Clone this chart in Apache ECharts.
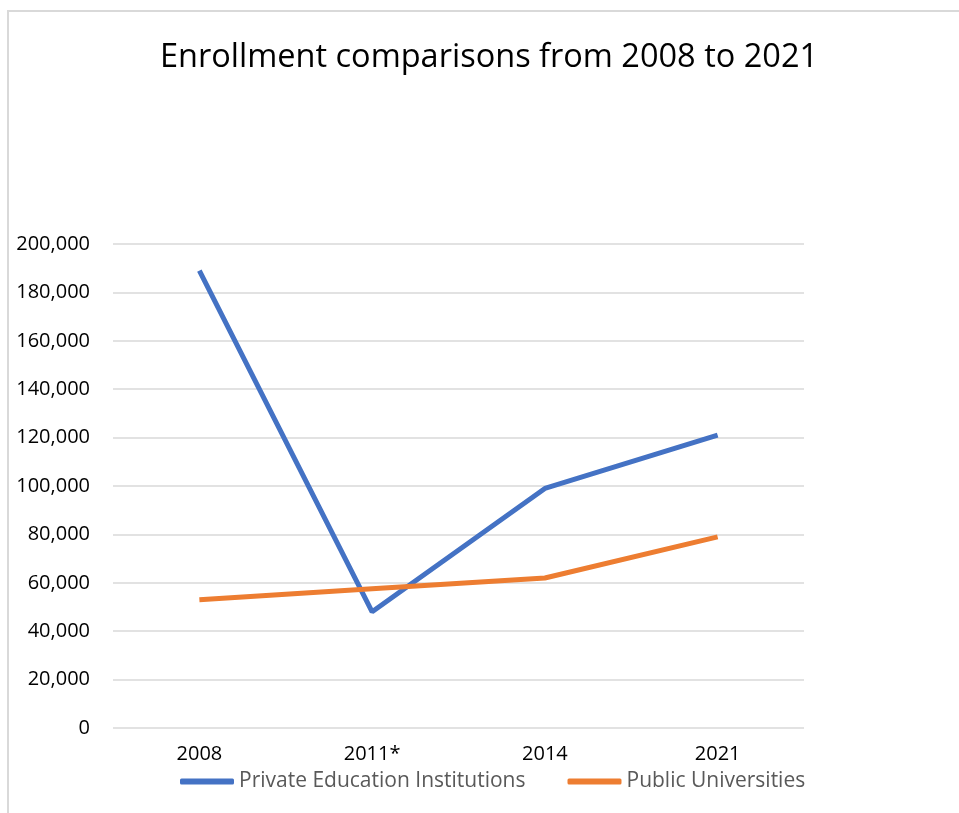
<!DOCTYPE html>
<html style="height: 100%">
<head>
  <meta charset="utf-8">
  <script src="https://cdn.jsdelivr.net/npm/echarts@6/dist/echarts.min.js"></script>
  <style>
    body { height: 100%; margin: 0; background: #fff; }
    #frame {
      position: absolute; left: 7px; top: 10px; width: 1000px; height: 900px;
      border: 2px solid #d9d9d9; box-sizing: border-box;
    }
    #chart { position: absolute; left: 0; top: 0; width: 959px; height: 813px; }
  </style>
</head>
<body>
  <div id="frame"></div>
  <div id="chart"></div>
  <script>
    var years = ['2008', '2011*', '2014', '2021'];
    var privateInst = [189000, 48000, 99000, 121000];
    var publicUni = [53000, 57500, 62000, 79000];
    var yTicks = { min: 0, max: 200000, step: 20000 };

    var font = 'Open Sans';
    var myChart = echarts.init(document.getElementById('chart'));
    var option = {
      backgroundColor: 'transparent',
      animation: false,
      title: {
        text: 'Enrollment comparisons from 2008 to 2021',
        left: 155, top: 36,
        textStyle: { color: '#000', fontSize: 32.5, fontWeight: 'normal', fontFamily: font }
      },
      grid: { left: 113, right: 155, top: 244, bottom: 85 },
      legend: {
        left: 175, top: 766, itemGap: 42, itemWidth: 54, itemHeight: 6,
        icon: 'roundRect',
        textStyle: { color: '#595959', fontSize: 21, fontFamily: font },
        data: ['Private Education Institutions', 'Public Universities']
      },
      xAxis: {
        type: 'category', data: years, boundaryGap: true,
        axisLine: { show: false }, axisTick: { show: false },
        axisLabel: { color: '#000', fontSize: 20, fontFamily: font, margin: 16 }
      },
      yAxis: {
        type: 'value', min: yTicks.min, max: yTicks.max, interval: yTicks.step,
        axisLine: { show: false }, axisTick: { show: false },
        splitLine: { lineStyle: { color: '#d9d9d9', width: 1.5 } },
        axisLabel: {
          color: '#000', fontSize: 20, fontFamily: font, margin: 23,
          formatter: function (v) { return v.toLocaleString('en-US'); }
        }
      },
      series: [
        {
          name: 'Private Education Institutions', type: 'line', data: privateInst,
          symbol: 'none', lineStyle: { color: '#4472C4', width: 5 }, itemStyle: { color: '#4472C4' }
        },
        {
          name: 'Public Universities', type: 'line', data: publicUni,
          symbol: 'none', lineStyle: { color: '#ED7D31', width: 5 }, itemStyle: { color: '#ED7D31' }
        }
      ]
    };
    myChart.setOption(option);
    window.addEventListener('resize', myChart.resize);
  </script>
</body>
</html>
